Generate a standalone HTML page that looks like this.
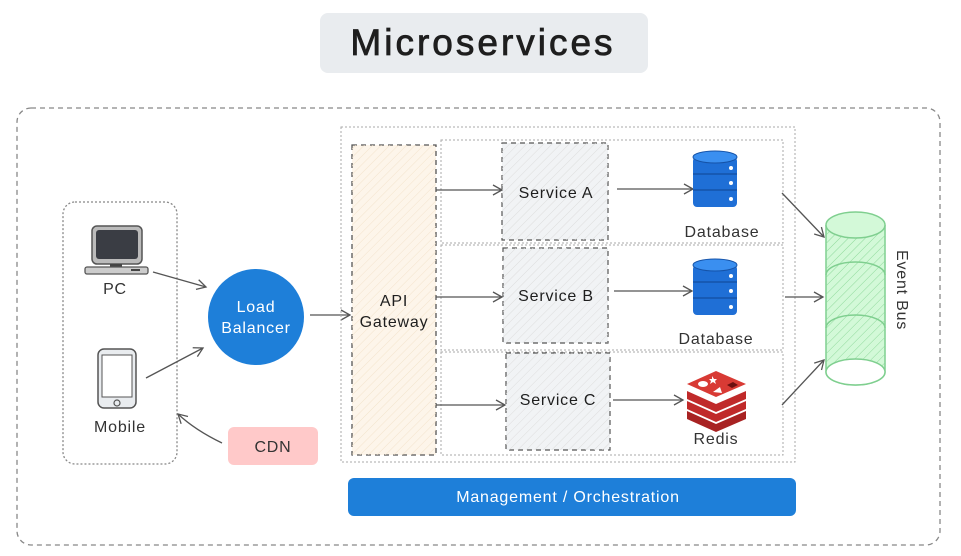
<!DOCTYPE html>
<html><head><meta charset="utf-8"><style>
html,body{margin:0;padding:0;background:#fff;}
svg{display:block;}
text{font-family:"Liberation Sans",sans-serif;letter-spacing:0.8px;}
</style></head><body>
<svg width="961" height="556" viewBox="0 0 961 556" xmlns="http://www.w3.org/2000/svg">
<defs>
<marker id="ah" markerWidth="12" markerHeight="12" refX="10" refY="6" orient="auto" markerUnits="userSpaceOnUse">
<path d="M1,1 L10,6 L1,11" fill="none" stroke="#555" stroke-width="1.3"/>
</marker>
<pattern id="hatch" width="6" height="6" patternUnits="userSpaceOnUse" patternTransform="rotate(45)">
<line x1="0" y1="0" x2="0" y2="6" stroke="#ddd" stroke-width="1"/>
</pattern>
<pattern id="hatchg" width="6" height="6" patternUnits="userSpaceOnUse" patternTransform="rotate(45)">
<line x1="0" y1="0" x2="0" y2="6" stroke="#8fd99b" stroke-width="1"/>
</pattern>
<pattern id="hatcho" width="6" height="6" patternUnits="userSpaceOnUse" patternTransform="rotate(45)">
<line x1="0" y1="0" x2="0" y2="6" stroke="#f3e3cc" stroke-width="1"/>
</pattern>
</defs>

<!-- Title -->
<rect x="320" y="13" width="328" height="60" rx="8" fill="#e9ecef"/>
<text x="483" y="55" font-size="37" text-anchor="middle" fill="#1e1e1e" stroke="#1e1e1e" stroke-width="0.8" style="letter-spacing:3px">Microservices</text>

<!-- outer -->
<rect x="17" y="108" width="923" height="437" rx="14" fill="none" stroke="#888" stroke-width="1.3" stroke-dasharray="5,4"/>

<!-- clients -->
<rect x="63" y="202" width="114" height="262" rx="12" fill="none" stroke="#888" stroke-width="1.3" stroke-dasharray="2,2"/>
<rect x="92" y="226" width="50" height="38" rx="5" fill="#bbb" stroke="#555" stroke-width="1.5"/>
<rect x="96" y="230" width="42" height="29" rx="3" fill="#3a3d44"/>
<rect x="110" y="264" width="12" height="4" fill="#444"/>
<rect x="85" y="267" width="63" height="7" rx="2" fill="#ccc" stroke="#555" stroke-width="1.3"/>
<rect x="131" y="269" width="9" height="2" fill="#444"/>
<text x="115" y="294" font-size="16" text-anchor="middle" fill="#333">PC</text>
<rect x="98" y="349" width="38" height="59" rx="6" fill="#e9ecef" stroke="#555" stroke-width="1.5"/>
<rect x="102" y="355" width="30" height="42" fill="#fff" stroke="#555" stroke-width="1"/>
<circle cx="117" cy="403" r="3" fill="none" stroke="#555" stroke-width="1.2"/>
<text x="120" y="432" font-size="16" text-anchor="middle" fill="#333">Mobile</text>

<!-- LB -->
<circle cx="256" cy="317" r="48" fill="#1e7fd9"/>
<text x="256" y="312" font-size="16" text-anchor="middle" fill="#fff">Load</text>
<text x="256" y="333" font-size="16" text-anchor="middle" fill="#fff">Balancer</text>

<!-- CDN -->
<rect x="228" y="427" width="90" height="38" rx="6" fill="#ffc9c9"/>
<text x="273" y="452" font-size="16" text-anchor="middle" fill="#333">CDN</text>

<line x1="153" y1="272" x2="206" y2="287" stroke="#555" stroke-width="1.3" marker-end="url(#ah)"/>
<line x1="146" y1="378" x2="203" y2="348" stroke="#555" stroke-width="1.3" marker-end="url(#ah)"/>
<path d="M222,443 Q195,430 178,414" fill="none" stroke="#555" stroke-width="1.3" marker-end="url(#ah)"/>
<line x1="310" y1="315" x2="350" y2="315" stroke="#555" stroke-width="1.3" marker-end="url(#ah)"/>

<rect x="341" y="127" width="454" height="335" fill="none" stroke="#aaa" stroke-width="1" stroke-dasharray="2,2"/>
<rect x="352" y="145" width="84" height="310" fill="#fdf5ea" stroke="#555" stroke-width="1.3" stroke-dasharray="5,4"/>
<rect x="352" y="145" width="84" height="310" fill="url(#hatcho)"/>
<text x="394" y="306" font-size="16" text-anchor="middle" fill="#1e1e1e">API</text>
<text x="394" y="327" font-size="16" text-anchor="middle" fill="#1e1e1e">Gateway</text>

<rect x="441" y="140" width="342" height="103" fill="none" stroke="#aaa" stroke-width="1" stroke-dasharray="2,2"/>
<rect x="441" y="245" width="342" height="105" fill="none" stroke="#aaa" stroke-width="1" stroke-dasharray="2,2"/>
<rect x="441" y="352" width="342" height="103" fill="none" stroke="#aaa" stroke-width="1" stroke-dasharray="2,2"/>

<g stroke="#555" stroke-width="1.2" stroke-dasharray="5,4">
<rect x="502" y="143" width="106" height="97" fill="#f1f3f5"/>
<rect x="503" y="248" width="105" height="95" fill="#f1f3f5"/>
<rect x="506" y="353" width="104" height="97" fill="#f1f3f5"/>
</g>
<rect x="502" y="143" width="106" height="97" fill="url(#hatch)"/>
<rect x="503" y="248" width="105" height="95" fill="url(#hatch)"/>
<rect x="506" y="353" width="104" height="97" fill="url(#hatch)"/>
<text x="556" y="198" font-size="16" text-anchor="middle" fill="#1e1e1e">Service A</text>
<text x="556" y="301" font-size="16" text-anchor="middle" fill="#1e1e1e">Service B</text>
<text x="558" y="405" font-size="16" text-anchor="middle" fill="#1e1e1e">Service C</text>

<g stroke="#555" stroke-width="1.3" fill="none" marker-end="url(#ah)">
<line x1="436" y1="190" x2="502" y2="190"/>
<line x1="436" y1="297" x2="502" y2="297"/>
<line x1="436" y1="405" x2="505" y2="405"/>
<line x1="617" y1="189" x2="693" y2="189"/>
<line x1="614" y1="291" x2="692" y2="291"/>
<line x1="613" y1="400" x2="683" y2="400"/>
<line x1="782" y1="193" x2="824" y2="237"/>
<line x1="785" y1="297" x2="823" y2="297"/>
<line x1="782" y1="405" x2="824" y2="360"/>
</g>

<g>
<rect x="693" y="157" width="44" height="50" rx="4" fill="#1f6fd6"/>
<ellipse cx="715" cy="157" rx="22" ry="6" fill="#3a8ff0" stroke="#1553a8" stroke-width="1"/>
<line x1="693" y1="174" x2="737" y2="174" stroke="#1553a8" stroke-width="1.5"/>
<line x1="693" y1="190" x2="737" y2="190" stroke="#1553a8" stroke-width="1.5"/>
<circle cx="731" cy="168" r="2" fill="#fff"/><circle cx="731" cy="183" r="2" fill="#fff"/><circle cx="731" cy="199" r="2" fill="#fff"/>
</g>
<g transform="translate(0,108)">
<rect x="693" y="157" width="44" height="50" rx="4" fill="#1f6fd6"/>
<ellipse cx="715" cy="157" rx="22" ry="6" fill="#3a8ff0" stroke="#1553a8" stroke-width="1"/>
<line x1="693" y1="174" x2="737" y2="174" stroke="#1553a8" stroke-width="1.5"/>
<line x1="693" y1="190" x2="737" y2="190" stroke="#1553a8" stroke-width="1.5"/>
<circle cx="731" cy="168" r="2" fill="#fff"/><circle cx="731" cy="183" r="2" fill="#fff"/><circle cx="731" cy="199" r="2" fill="#fff"/>
</g>
<text x="722" y="237" font-size="16" text-anchor="middle" fill="#333">Database</text>
<text x="716" y="344" font-size="16" text-anchor="middle" fill="#333">Database</text>

<path d="M687,411 L716,424 L746,411 L746,419 L716,432 L687,419Z" fill="#a82222"/>
<path d="M687,401 L716,414 L746,401 L746,409 L716,422 L687,409Z" fill="#c02a2a"/>
<path d="M687,391 L716,404 L746,391 L746,399 L716,412 L687,399Z" fill="#c02a2a"/>
<path d="M687,384 L716,371 L746,384 L716,397Z" fill="#d83a34"/>
<ellipse cx="703" cy="384" rx="5" ry="3" fill="#fff"/>
<path d="M712,376 l2,3 l3,0 l-2,2 l1,3 l-3,-2 l-3,2 l1,-3 l-2,-2 l3,0z" fill="#fff"/>
<path d="M713,392 l7,-5 l2,6z" fill="#fff"/>
<path d="M727,385 l6,-3 l5,3 l-6,3z" fill="#6b1010"/>
<text x="716" y="444" font-size="16" text-anchor="middle" fill="#333">Redis</text>

<path d="M826,225 L826,372 A29.5,13 0 0 0 885,372 L885,225" fill="#d3f9d8" stroke="#7fcf8f" stroke-width="1.5"/>
<path d="M826,225 L826,372 A29.5,13 0 0 0 885,372 L885,225" fill="url(#hatchg)"/>
<ellipse cx="855.5" cy="372" rx="29.5" ry="13" fill="#fff" stroke="#7fcf8f" stroke-width="1.5"/>
<ellipse cx="855.5" cy="225" rx="29.5" ry="13" fill="#d3f9d8" stroke="#7fcf8f" stroke-width="1.5"/>
<path d="M826,275 A29.5,13 0 0 1 885,275" fill="none" stroke="#7fcf8f" stroke-width="1.5"/>
<path d="M826,328 A29.5,13 0 0 1 885,328" fill="none" stroke="#7fcf8f" stroke-width="1.5"/>
<text x="0" y="0" font-size="16" fill="#333" transform="translate(897,250) rotate(90)">Event Bus</text>

<rect x="348" y="478" width="448" height="38" rx="6" fill="#1e7fd9"/>
<text x="568" y="502" font-size="16" text-anchor="middle" fill="#fff">Management / Orchestration</text>
</svg>
</body></html>
